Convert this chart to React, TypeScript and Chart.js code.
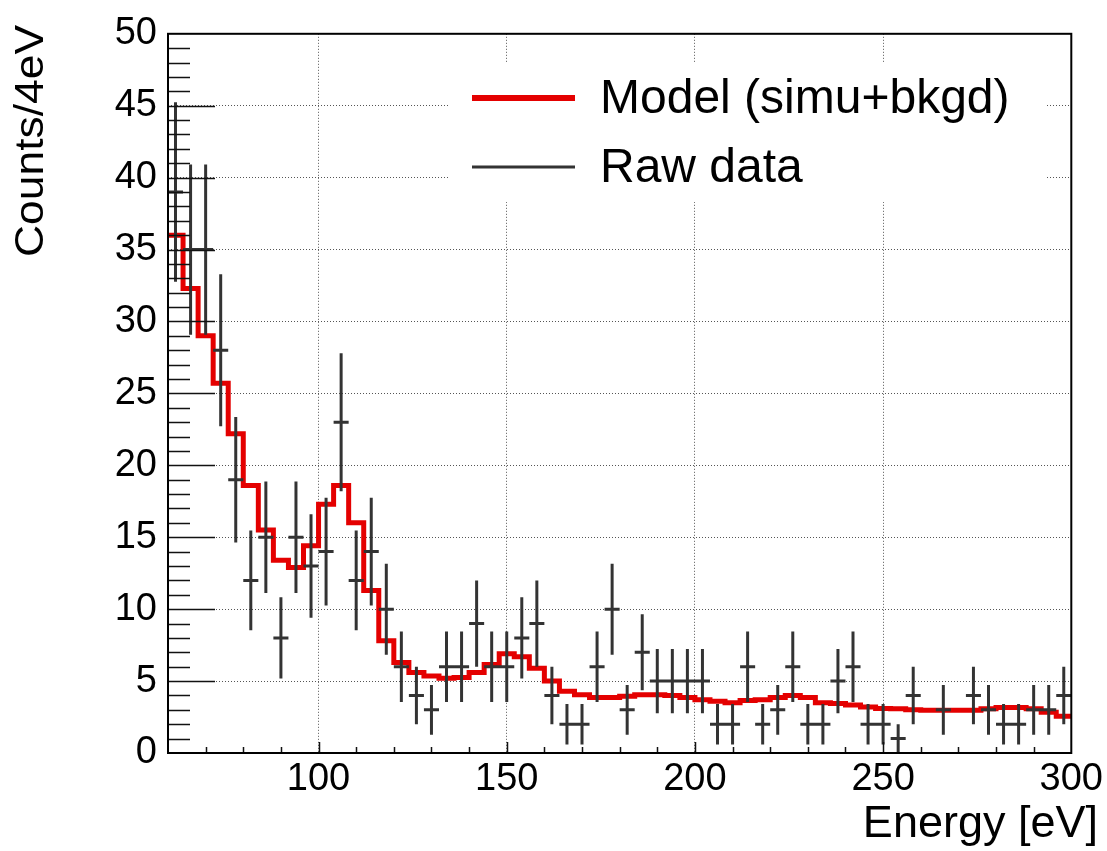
import React, { useEffect, useRef } from 'react';
import { Chart, registerables } from 'chart.js';

Chart.register(...registerables);

const FONT = '"Liberation Sans", Arial, Helvetica, sans-serif';

// Histogram bins (low edges, 4 eV wide)
const BIN_WIDTH = 4;
const binLow = [
  60, 64, 68, 72, 76, 80, 84, 88, 92, 96,
  100, 104, 108, 112, 116, 120, 124, 128, 132, 136,
  140, 144, 148, 152, 156, 160, 164, 168, 172, 176,
  180, 184, 188, 192, 196, 200, 204, 208, 212, 216,
  220, 224, 228, 232, 236, 240, 244, 248, 252, 256,
  260, 264, 268, 272, 276, 280, 284, 288, 292, 296,
];

// Model (simu+bkgd) histogram contents
const modelCounts = [
  36.0, 32.3, 29.0, 25.7, 22.2, 18.6, 15.5, 13.4, 12.9, 14.4,
  17.3, 18.6, 16.0, 11.3, 7.8, 6.3, 5.6, 5.35, 5.2, 5.25,
  5.6, 6.15, 6.9, 6.7, 5.9, 5.0, 4.3, 4.05, 3.85, 3.85,
  3.95, 4.05, 4.05, 4.0, 3.85, 3.7, 3.6, 3.5, 3.65, 3.7,
  3.86, 4.0, 3.86, 3.5, 3.45, 3.34, 3.2, 3.1, 3.07, 3.0,
  2.97, 2.97, 2.97, 2.97, 3.07, 3.17, 3.17, 3.07, 2.84, 2.55,
];

// Raw data counts per bin
const rawCounts = [
  39, 35, 35, 28, 19, 12, 15, 8, 15, 13,
  14, 23, 12, 14, 10, 6, 4, 3, 6, 6,
  9, 6, 6, 8, 9, 4, 2, 2, 6, 10,
  3, 7, 5, 5, 5, 5, 2, 2, 6, 2,
  3, 6, 2, 2, 5, 6, 2, 2, 1, 4,
  0, 3, 0, 4, 3, 2, 2, 3, 3, 4,
];

const xMajorTicks = [100, 150, 200, 250, 300];
const xMinorStep = 10;
const yMinorStep = 1;
const X_MIN = 60;
const X_MAX = 300;
const Y_MIN = 0;
const Y_MAX = 50;

const legendLabels = ['Model (simu+bkgd)', 'Raw data'];
const xTitle = 'Energy [eV]';
const yTitle = 'Counts/4eV';

const RED = '#e40000';
const DARK = '#333333';

function buildModelData() {
  const pts = binLow.map((x, i) => ({ x, y: modelCounts[i] }));
  pts.push({ x: binLow[binLow.length - 1] + BIN_WIDTH, y: modelCounts[modelCounts.length - 1] });
  return pts;
}

function buildErrorData() {
  const pts: any[] = [];
  binLow.forEach((lo, i) => {
    const v = rawCounts[i];
    if (v <= 0) return;
    const c = lo + BIN_WIDTH / 2;
    const e = Math.sqrt(v);
    pts.push({ x: lo, y: v }, { x: lo + BIN_WIDTH, y: v }, { x: c, y: null });
    pts.push({ x: c, y: v - e }, { x: c, y: v + e }, { x: c, y: null });
  });
  return pts;
}

const decorPlugin = {
  id: 'rootDecor',
  afterDatasetsDraw(chart: any) {
    const { ctx, chartArea: ca, scales } = chart;
    const xs = scales.x;
    const ys = scales.y;
    ctx.save();

    // Inner tick marks
    ctx.strokeStyle = '#111';
    ctx.lineWidth = 1.5;
    ctx.setLineDash([]);
    ctx.beginPath();
    for (let v = Y_MIN + yMinorStep; v < Y_MAX; v += yMinorStep) {
      const y = Math.round(ys.getPixelForValue(v)) + 0.5;
      const len = v % 5 === 0 ? 47 : 22;
      ctx.moveTo(ca.left, y);
      ctx.lineTo(ca.left + len, y);
    }
    for (let v = 70; v < X_MAX; v += xMinorStep) {
      const x = Math.round(xs.getPixelForValue(v)) + 0.5;
      const len = xMajorTicks.includes(v) ? 11 : 6;
      ctx.moveTo(x, ca.bottom);
      ctx.lineTo(x, ca.bottom - len);
    }
    ctx.stroke();

    // Frame
    ctx.lineWidth = 2;
    ctx.strokeStyle = '#000';
    ctx.strokeRect(ca.left, ca.top, ca.right - ca.left, ca.bottom - ca.top);

    // Legend box (white, no border)
    ctx.fillStyle = '#fff';
    ctx.fillRect(450, 62, 597, 140);
    ctx.lineCap = 'butt';
    ctx.strokeStyle = RED;
    ctx.lineWidth = 6;
    ctx.beginPath();
    ctx.moveTo(472, 98);
    ctx.lineTo(575, 98);
    ctx.stroke();
    ctx.strokeStyle = DARK;
    ctx.lineWidth = 3;
    ctx.beginPath();
    ctx.moveTo(472, 167);
    ctx.lineTo(575, 167);
    ctx.stroke();
    ctx.fillStyle = '#000';
    ctx.font = `48px ${FONT}`;
    ctx.textAlign = 'left';
    ctx.textBaseline = 'alphabetic';
    ctx.fillText(legendLabels[0], 600, 113);
    ctx.fillText(legendLabels[1], 600, 182);

    // Axis titles
    ctx.font = `45px ${FONT}`;
    ctx.textAlign = 'right';
    ctx.fillText(xTitle, 1098, 837);

    ctx.save();
    ctx.translate(43, 25);
    ctx.rotate(-Math.PI / 2);
    ctx.scale(1.11, 1);
    ctx.font = `40px ${FONT}`;
    ctx.textAlign = 'right';
    ctx.fillText(yTitle, 0, 0);
    ctx.restore();

    ctx.restore();
  },
};

export default function App() {
  const canvasRef = useRef<HTMLCanvasElement | null>(null);

  useEffect(() => {
    if (!canvasRef.current) return;
    const chart = new Chart(canvasRef.current, {
      type: 'line',
      data: {
        datasets: [
          {
            label: legendLabels[1],
            data: buildErrorData(),
            borderColor: DARK,
            borderWidth: 3,
            pointRadius: 0,
            spanGaps: false,
            tension: 0,
            order: 0,
          } as any,
          {
            label: legendLabels[0],
            data: buildModelData(),
            borderColor: RED,
            borderWidth: 5,
            pointRadius: 0,
            stepped: 'before',
            borderJoinStyle: 'miter',
            tension: 0,
            order: 1,
          } as any,
        ],
      },
      options: {
        animation: false,
        responsive: false,
        maintainAspectRatio: false,
        layout: { padding: { top: 24, right: 35, left: 0, bottom: 0 } },
        plugins: {
          legend: { display: false },
          tooltip: { enabled: false },
          title: { display: false },
        },
        scales: {
          x: {
            type: 'linear',
            min: X_MIN,
            max: X_MAX,
            afterBuildTicks: (scale: any) => {
              scale.ticks = xMajorTicks.map((v) => ({ value: v }));
            },
            afterFit: (scale: any) => {
              scale.height = 98;
            },
            grid: { color: '#555', lineWidth: 1, drawTicks: false },
            border: { display: false, dash: [1, 2] },
            ticks: {
              color: '#000',
              padding: 4,
              maxRotation: 0,
              autoSkip: false,
              font: { family: FONT, size: 38 },
            },
          },
          y: {
            type: 'linear',
            min: Y_MIN,
            max: Y_MAX,
            afterFit: (scale: any) => {
              scale.width = 168;
            },
            grid: { color: '#555', lineWidth: 1, drawTicks: false },
            border: { display: false, dash: [1, 2] },
            ticks: {
              stepSize: 5,
              color: '#000',
              padding: 11,
              autoSkip: false,
              font: { family: FONT, size: 38 },
            },
          },
        },
      },
      plugins: [decorPlugin],
    });
    return () => chart.destroy();
  }, []);

  return (
    <div style={{ position: 'fixed', left: 0, top: 0, width: 1107, height: 851, background: '#fff' }}>
      <canvas ref={canvasRef} width={1107} height={851} style={{ width: 1107, height: 851, display: 'block' }} />
    </div>
  );
}
